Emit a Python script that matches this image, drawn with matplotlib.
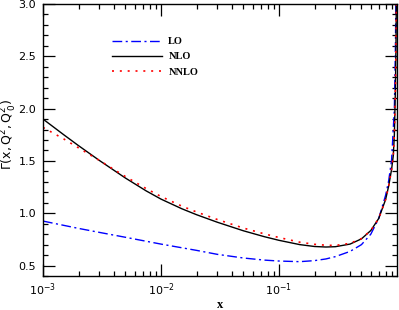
import numpy as np
import matplotlib
matplotlib.use("Agg")
import matplotlib.pyplot as plt
from matplotlib.ticker import MultipleLocator, NullFormatter, LogLocator

# ---- data ----
x_nlo = [0.001, 0.0015, 0.002, 0.003, 0.005, 0.0075, 0.01, 0.015, 0.02, 0.03,
         0.05, 0.075, 0.1, 0.15, 0.2, 0.25, 0.3, 0.4, 0.5, 0.6, 0.7, 0.8,
         0.85, 0.9, 0.93, 0.95, 0.97, 0.98, 0.99]
y_nlo = [1.90, 1.75, 1.646, 1.505, 1.336, 1.213, 1.135, 1.043, 0.986, 0.914,
         0.832, 0.776, 0.741, 0.700, 0.682, 0.677, 0.680, 0.705, 0.755, 0.835, 0.95, 1.13,
         1.26, 1.42, 1.55, 1.75, 2.2, 2.6, 3.2]

x_nnlo = [0.001, 0.0015, 0.002, 0.003, 0.005, 0.0075, 0.01, 0.015, 0.02, 0.03,
          0.05, 0.075, 0.1, 0.15, 0.2, 0.25, 0.3, 0.4, 0.5, 0.6, 0.7, 0.8,
          0.85, 0.9, 0.93, 0.95, 0.97, 0.98, 0.99]
y_nnlo = [1.82, 1.71, 1.625, 1.505, 1.35, 1.235, 1.16, 1.068, 1.012, 0.94,
          0.858, 0.803, 0.768, 0.723, 0.703, 0.694, 0.692, 0.712, 0.758, 0.835, 0.95, 1.13,
          1.26, 1.42, 1.55, 1.75, 2.2, 2.6, 3.2]

x_lo = [0.001, 0.002, 0.003, 0.005, 0.01, 0.02, 0.03, 0.05, 0.075, 0.1,
        0.15, 0.2, 0.25, 0.3, 0.4, 0.5, 0.6, 0.7, 0.8, 0.85, 0.9, 0.95,
        0.97, 0.98]
y_lo = [0.925, 0.855, 0.817, 0.77, 0.705, 0.645, 0.607, 0.572, 0.552, 0.543,
        0.537, 0.547, 0.563, 0.585, 0.635, 0.70, 0.80, 0.95, 1.17, 1.31, 1.51, 2.0,
        2.6, 3.1]

labels = ["LO", "NLO", "NNLO"]
xtick_vals = [1e-3, 1e-2, 1e-1]
xtick_labels = [r"$10^{-3}$", r"$10^{-2}$", r"$10^{-1}$"]

fig = plt.figure(figsize=(3.99, 3.10), dpi=100)
ax = fig.add_axes([43/399, 34/310, 354/399, 272/310])

ax.plot(x_lo, y_lo, color="#0000ff", lw=1.0,
        linestyle=(0, (7, 2.5, 1.5, 2.5)), label=labels[0])
ax.plot(x_nlo, y_nlo, color="black", lw=1.0, linestyle="-", label=labels[1])
ax.plot(x_nnlo, y_nnlo, color="#ff0000", lw=1.2,
        linestyle=(0, (1.2, 3.5)), label=labels[2])

ax.set_xscale("log")
ax.set_xlim(1e-3, 1.0)
ax.set_ylim(0.4, 3.0)

ax.yaxis.set_major_locator(MultipleLocator(0.5))
ax.yaxis.set_minor_locator(MultipleLocator(0.1))
ax.set_xticks(xtick_vals)
ax.set_xticklabels(xtick_labels)
ax.xaxis.set_minor_locator(LogLocator(base=10, subs=np.arange(2, 10), numticks=20))
ax.xaxis.set_minor_formatter(NullFormatter())
ax.yaxis.set_major_formatter(matplotlib.ticker.FormatStrFormatter("%.1f"))

ax.tick_params(which="both", direction="in", top=True, right=True, width=0.9)
ax.tick_params(which="major", length=8.5, labelsize=8)
ax.tick_params(axis="y", which="major", pad=5)
ax.tick_params(axis="x", which="major", pad=4)
ax.tick_params(which="minor", length=3.6)
for s in ax.spines.values():
    s.set_linewidth(1.0)

ax.set_xlabel("x", fontsize=9, fontweight="bold", family="Liberation Serif")
ax.xaxis.set_label_coords(0.5, -0.107)
ax.xaxis.label.set_va("center")
ax.set_ylabel(r"$\Gamma(\mathrm{x,Q^2,Q^2_{\,0}})$", fontsize=9)
ax.yaxis.set_label_coords(-0.095, 0.52)
ax.yaxis.label.set_va("center")

leg = ax.legend(loc="upper left", bbox_to_anchor=(0.195, 0.878), frameon=False,
                handlelength=4.8, handletextpad=0.6, labelspacing=0.55,
                borderpad=0, borderaxespad=0,
                prop={"family": "Liberation Serif", "size": 7.5, "weight": "bold"})

fig.savefig("out.png", dpi=100)
